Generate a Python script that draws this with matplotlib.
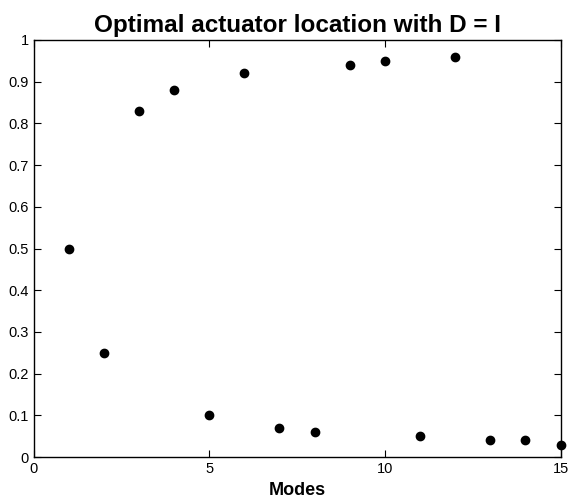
import numpy as np
import matplotlib.pyplot as plt

plt.rcParams['font.family'] = ['Liberation Sans', 'DejaVu Sans']

# data
modes = [1, 2, 3, 4, 5, 6, 7, 8, 9, 10, 11, 12, 13, 14, 15]
location = [0.50, 0.25, 0.83, 0.88, 0.10, 0.92, 0.07, 0.06, 0.94, 0.95,
            0.05, 0.96, 0.04, 0.04, 0.03]

fig = plt.figure(figsize=(5.71, 4.99), dpi=100)
# axes box: 33.5..561 px across, 40..457 px down
ax = fig.add_axes([0.0587, 0.084, 0.923, 0.836])
ax.plot(modes, location, 'o', color='k', markersize=6, clip_on=False)

ax.set_xlim(0, 15)
ax.set_ylim(0, 1)
ax.set_xticks([0, 5, 10, 15])
ax.set_yticks(np.arange(0, 1.01, 0.1))
ax.set_yticklabels(['0', '0.1', '0.2', '0.3', '0.4', '0.5', '0.6', '0.7',
                    '0.8', '0.9', '1'])
ax.tick_params(direction='in', top=True, right=True, labelsize=10.5, length=5, pad=3.5)
for s in ax.spines.values():
    s.set_linewidth(1.0)
ax.set_xlabel('Modes', fontsize=13, fontweight='bold', labelpad=4)
ax.set_title('Optimal actuator location with D = I', fontsize=17.5,
             fontweight='bold', pad=6)

fig.savefig('out.png', dpi=100)
